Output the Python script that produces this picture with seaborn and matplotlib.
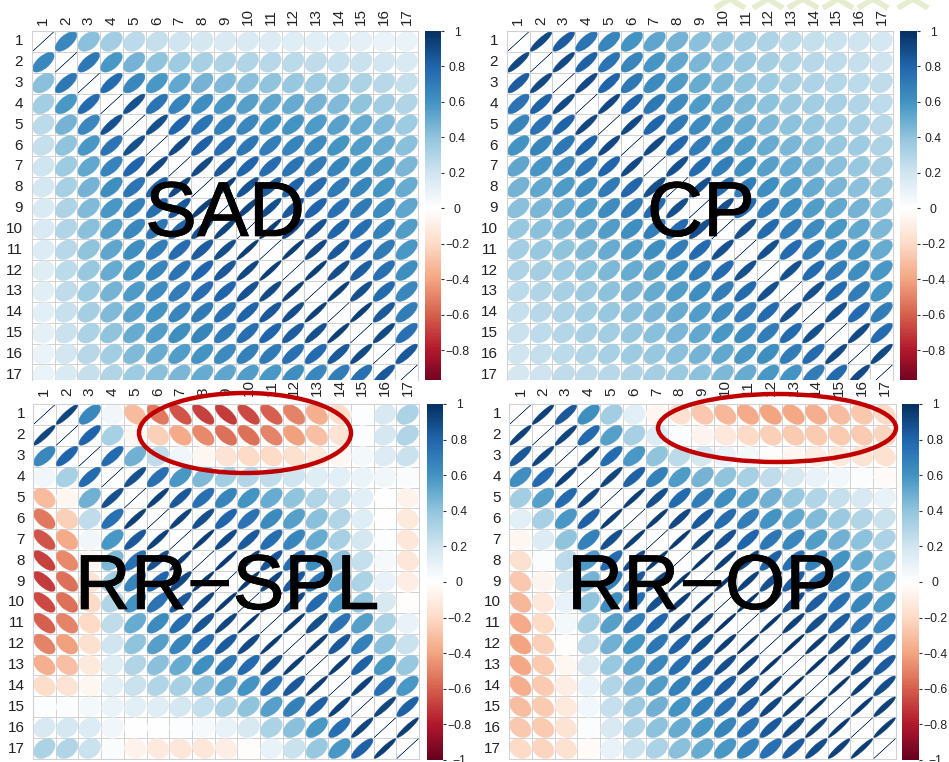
import numpy as np
import pandas as pd
import matplotlib
matplotlib.use('Agg')
import matplotlib.pyplot as plt
import matplotlib.patheffects as pe
import seaborn as sns
from matplotlib.colors import LinearSegmentedColormap
from matplotlib.patches import Ellipse

labels = [str(i) for i in range(1, 18)]
cbar_ticks = [1, 0.8, 0.6, 0.4, 0.2, 0, -0.2, -0.4, -0.6, -0.8, -1]

# upper triangle of each correlation matrix, row by row
sad = [
    [.65, .42, .35, .27, .24, .20, .18, .16, .16, .15, .14, .13, .12, .11, .09, .09],
    [.72, .58, .47, .40, .36, .33, .31, .30, .28, .27, .25, .23, .22, .19, .16],
    [.78, .65, .58, .52, .47, .44, .42, .40, .38, .36, .34, .32, .28, .24],
    [.87, .74, .67, .62, .58, .55, .53, .50, .47, .44, .40, .35, .30],
    [.88, .80, .73, .68, .65, .62, .60, .57, .54, .50, .44, .36],
    [.90, .82, .76, .72, .69, .67, .63, .60, .56, .50, .42],
    [.90, .85, .80, .77, .74, .70, .66, .62, .56, .46],
    [.93, .87, .83, .80, .77, .71, .66, .60, .50],
    [.92, .89, .85, .80, .75, .71, .64, .53],
    [.95, .91, .87, .81, .76, .68, .56],
    [.95, .90, .85, .80, .71, .58],
    [.94, .89, .83, .75, .62],
    [.94, .88, .78, .65],
    [.94, .85, .70],
    [.90, .75],
    [.85],
]
cp = [
    [.90, .83, .74, .66, .60, .53, .47, .42, .38, .35, .31, .27, .24, .22, .20, .18],
    [.90, .82, .74, .66, .59, .52, .46, .42, .38, .34, .30, .28, .26, .24, .21],
    [.90, .81, .72, .64, .57, .50, .45, .40, .36, .33, .31, .29, .27, .25],
    [.91, .81, .72, .63, .57, .51, .45, .41, .37, .35, .33, .30, .26],
    [.90, .80, .71, .63, .56, .50, .45, .41, .38, .35, .33, .28],
    [.90, .79, .70, .62, .56, .50, .46, .42, .39, .36, .31],
    [.88, .78, .69, .62, .55, .50, .46, .42, .38, .34],
    [.88, .78, .70, .62, .56, .50, .46, .42, .37],
    [.88, .78, .70, .62, .56, .52, .47, .41],
    [.88, .78, .70, .63, .58, .52, .45],
    [.88, .78, .70, .63, .58, .50],
    [.88, .78, .70, .62, .58],
    [.88, .78, .70, .60],
    [.88, .78, .70],
    [.90, .78],
    [.90],
]
rr_spl = [
    [.92, .65, .07, -.32, -.53, -.63, -.68, -.70, -.66, -.60, -.50, -.36, -.18, .01, .17, .32],
    [.80, .33, -.05, -.24, -.38, -.48, -.55, -.55, -.50, -.41, -.30, -.15, .02, .18, .30],
    [.78, .48, .25, .07, -.05, -.15, -.20, -.20, -.17, -.12, -.05, .05, .15, .22],
    [.88, .75, .58, .45, .35, .30, .25, .20, .14, .12, .09, .07, .03],
    [.93, .85, .75, .66, .60, .50, .40, .30, .22, .12, .00, -.07],
    [.93, .88, .80, .74, .64, .55, .42, .30, .14, .00, -.12],
    [.95, .90, .84, .76, .66, .50, .33, .18, .01, -.14],
    [.96, .92, .86, .76, .62, .42, .24, .04, -.14],
    [.96, .92, .84, .72, .53, .32, .10, -.10],
    [.97, .90, .78, .60, .40, .17, -.01],
    [.96, .88, .74, .55, .32, .10],
    [.95, .85, .68, .42, .22],
    [.95, .82, .58, .38],
    [.93, .75, .58],
    [.92, .82],
    [.94],
]
rr_op = [
    [.93, .85, .62, .35, .12, -.05, -.17, -.27, -.33, -.38, -.40, -.39, -.36, -.31, -.27, -.20],
    [.92, .78, .55, .33, .15, .02, -.06, -.13, -.20, -.24, -.26, -.26, -.26, -.26, -.22],
    [.93, .78, .58, .40, .27, .18, .10, .05, -.01, -.05, -.10, -.12, -.15, -.16],
    [.92, .82, .68, .57, .47, .40, .33, .25, .17, .10, .06, .02, -.03],
    [.95, .88, .78, .70, .62, .55, .48, .38, .30, .24, .17, .10],
    [.95, .90, .85, .77, .70, .60, .52, .44, .37, .30, .22],
    [.96, .92, .87, .80, .72, .65, .56, .48, .41, .32],
    [.97, .94, .90, .82, .76, .68, .60, .50, .42],
    [.97, .93, .88, .83, .76, .68, .58, .50],
    [.97, .94, .89, .83, .75, .66, .58],
    [.97, .93, .88, .83, .74, .67],
    [.97, .95, .91, .84, .75],
    [.97, .95, .90, .84],
    [.97, .94, .89],
    [.96, .93],
    [.95],
]

cmap = LinearSegmentedColormap.from_list('col2', ['#67001F', '#B2182B', '#D6604D', '#F4A582', '#FDDBC7', '#FFFFFF',
                                                  '#D1E5F0', '#92C5DE', '#4393C3', '#2166AC', '#053061'])
W, H = 949, 762
plt.rcParams['font.family'] = ['Liberation Sans', 'DejaVu Sans']
low_lim = {16.75: -0.967, 17: -1}


def to_frame(rows):
    m = np.eye(17)
    for i, row in enumerate(rows):
        for k, v in enumerate(row):
            m[i, i + 1 + k] = v
            m[i + 1 + k, i] = v
    return pd.DataFrame(m, index=labels, columns=labels)


def place(fig, l, t, r, b):
    return fig.add_axes([l / W, 1 - b / H, (r - l) / W, (b - t) / H])


def corrplot(fig, rows, box, cbox, nrows, xpad, ypad):
    ax = place(fig, *box)
    cax = place(fig, *cbox)
    df = to_frame(rows)
    sns.heatmap(df * 0, ax=ax, cbar_ax=cax, cmap=cmap, vmin=-1, vmax=1, linewidths=0.7, linecolor='#d2d2d2')
    for i, lab_i in enumerate(labels):
        for j, lab_j in enumerate(labels):
            r = df.loc[lab_i, lab_j]
            c = cmap((r + 1) / 2)
            ax.add_patch(Ellipse((j + .5, i + .5), 2 * .475 * np.sqrt(1 + r), 2 * .475 * np.sqrt(max(1 - r, 0)),
                                 angle=-45, facecolor=c, edgecolor=c, lw=.3))
    ax.set_ylim(nrows, 0)
    ax.xaxis.tick_top()
    ax.set_xticks(np.arange(17) + .5, labels, rotation=90, va='bottom', ha='center')
    ax.set_yticks(np.arange(17) + .5, labels, rotation=0, va='center')
    ax.tick_params(axis='x', length=0, pad=xpad, labelsize=11, labelcolor='#222222')
    ax.tick_params(axis='y', length=0, pad=ypad, labelsize=11, labelcolor='#222222')
    for name, s in ax.spines.items():
        s.set_visible(name != 'bottom' or nrows == 17)
        s.set_color('#d2d2d2')
        s.set_linewidth(.8)
    cax.set_ylim(low_lim[nrows], 1)
    ticks = [t for t in cbar_ticks if t >= low_lim[nrows]]
    cax.yaxis.tick_right()
    cax.set_yticks(ticks, [str(t).replace('-', '\u2212') for t in ticks], ha='center')
    cax.tick_params(length=2, width=.8, color='#333333', labelsize=8.7, labelcolor='#222222', pad=9.8)
    for s in cax.spines.values():
        s.set_visible(False)


fig = plt.figure(figsize=(W / 100, H / 100), dpi=100)
corrplot(fig, sad, (32, 31, 418, 380), (425, 31, 441, 380), 16.75, 4.5, 6.5)
corrplot(fig, cp, (507, 31, 893, 380), (900, 31, 917, 380), 16.75, 4.5, 6.5)
corrplot(fig, rr_spl, (33, 404, 419, 759), (427, 404, 443, 760), 17, 5.8, 5.8)
corrplot(fig, rr_op, (509, 404, 896, 759), (902, 404, 919, 760), 17, 5.8, 5.8)

# overlay in pixel coordinates for the pasted-on annotations
top = fig.add_axes([0, 0, 1, 1], zorder=5)
top.set_xlim(0, W)
top.set_ylim(H, 0)
top.axis('off')
top.patch.set_alpha(0)

for cx in [730, 768, 803, 838, 873, 913]:
    top.plot([cx - 15, cx, cx + 15], [8, -1, 8], color='#e6edcf', lw=4, solid_capstyle='butt')

for x, y, name in [(225, 236, 'SAD'), (701, 236, 'CP'), (227, 609, 'RR\u2212SPL'), (702, 609, 'RR\u2212OP')]:
    top.text(x, y, name, ha='center', va='baseline', fontsize=56, color='black',
             path_effects=[pe.withStroke(linewidth=0.5, foreground='black')])

top.add_patch(Ellipse((245, 433), 212, 80, facecolor='none', edgecolor='#C00000', lw=3.2))
top.add_patch(Ellipse((777, 428), 238, 68, facecolor='none', edgecolor='#C00000', lw=3.2))

fig.savefig('out.png', dpi=100)
